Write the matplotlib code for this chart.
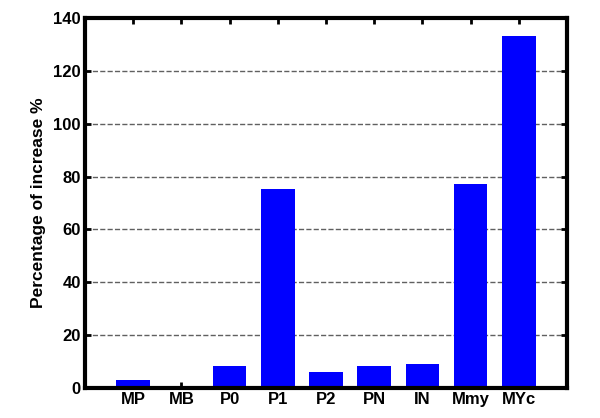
import matplotlib.pyplot as plt

# data
cells = ['MP', 'MB', 'P0', 'P1', 'P2', 'PN', 'IN', 'Mmy', 'MYc']
increase = [3, 0.6, 8.2, 75.2, 6, 8.2, 8.9, 77, 133.2]
yticks = [0, 20, 40, 60, 80, 100, 120, 140]

plt.rcParams['font.family'] = ['Liberation Sans', 'DejaVu Sans']
plt.rcParams['font.weight'] = 'bold'

fig = plt.figure(figsize=(6, 4.18), dpi=100)
ax = fig.add_axes([0.1417, 0.0718, 0.8033, 0.8852])

pos = list(range(1, len(cells) + 1))
ax.bar(pos, increase, width=0.7, color='#0000ff', zorder=3)

ax.set_xlim(0, 10)
ax.set_ylim(0, 140)
ax.set_xticks(pos)
ax.set_xticklabels(cells, fontsize=12, fontweight='bold')
ax.set_yticks(yticks)
ax.set_yticklabels([str(v) for v in yticks], fontsize=12, fontweight='bold')

ax.yaxis.grid(True, linestyle='--', color='#606060', linewidth=1, zorder=1)
ax.set_axisbelow(True)

for s in ax.spines.values():
    s.set_linewidth(3)
    s.set_zorder(5)

ax.tick_params(direction='in', length=4, width=2, top=True, right=True, pad=3)

ax.set_ylabel('Percentage of increase %', fontsize=12.5, fontweight='bold', labelpad=5)

fig.savefig('out.png', dpi=100)
